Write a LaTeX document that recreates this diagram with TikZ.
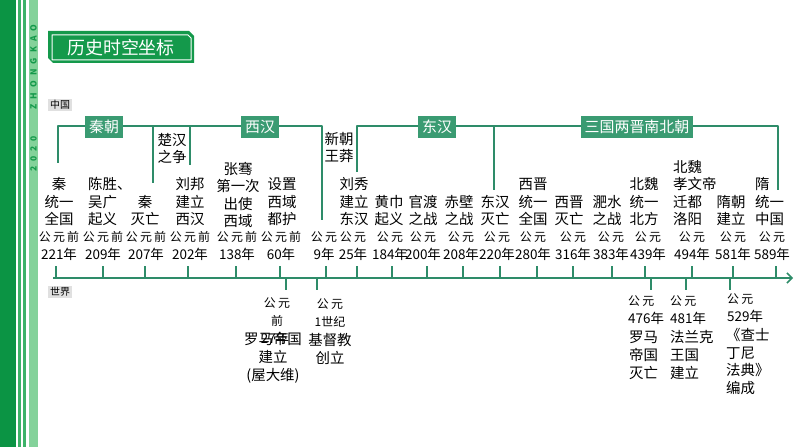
\documentclass[tikz,border=0pt]{standalone}
\usepackage{fontspec}
\setmainfont{Noto Sans CJK SC}
\newfontfamily\gyfont[LetterSpace=18]{Noto Sans CJK SC}
\newfontfamily\stripfont[LetterSpace=60]{Noto Sans CJK SC}
\usepackage[x11names, svgnames, rgb]{xcolor}
\usepackage{tikz}
\usetikzlibrary{arrows,arrows.meta,shapes}
\definecolor{tlgreen}{HTML}{2E8C69}
\definecolor{dynfill}{HTML}{3A9B72}
\definecolor{ttlgreen}{HTML}{14994B}
\definecolor{darkstrip}{HTML}{0B9444}
\definecolor{thinstrip}{HTML}{3DB268}
\definecolor{lightstrip}{HTML}{84D29A}

\begin{document}
\begin{tikzpicture}[line join=bevel,
  ev/.style={align=center,anchor=south,inner sep=0pt,font=\fontsize{14.5}{17.5}\selectfont},
  evl/.style={ev,align=left,anchor=south west},
  yr/.style={align=center,inner sep=0pt,font=\fontsize{13.5}{18}\selectfont},
  wd/.style={align=center,inner sep=0pt,font=\fontsize{14.5}{18}\selectfont},
  wdl/.style={wd,align=left,anchor=west},
  dynbox/.style={fill=dynfill,text=white,minimum height=22bp,inner xsep=4bp,inner ysep=0pt,font=\fontsize{15}{15}\selectfont},
  tag/.style={fill=black!12,inner xsep=2bp,inner ysep=1.5bp,font=\fontsize{10}{10}\selectfont},
  tline/.style={draw=tlgreen,line width=1.5bp},
]
\useasboundingbox (0bp,0bp) rectangle (794bp,447bp);
%% side strips
\fill[darkstrip] (0bp,0bp) rectangle (16bp,447bp);
\fill[thinstrip] (18bp,0bp) rectangle (21bp,447bp);
\fill[thinstrip] (23bp,0bp) rectangle (26bp,447bp);
\fill[lightstrip] (29bp,0bp) rectangle (38bp,447bp);
\node (zk) at (33.5bp,380bp) [rotate=90,text=ttlgreen,inner sep=0pt,font=\stripfont\fontsize{8.5}{8.5}\bfseries] {ZHONGKAO};
\node (zy) at (33.5bp,293bp) [rotate=90,text=ttlgreen,inner sep=0pt,font=\stripfont\fontsize{8.5}{8.5}\bfseries] {2020};
%% title
\fill[ttlgreen] (48bp,416bp) -- (189bp,416bp) -- (194bp,411bp) -- (194bp,384bp) -- (53bp,384bp) -- (48bp,389bp) -- cycle;
\draw[white,line width=1bp] (52bp,412bp) -- (188bp,412bp) -- (191bp,409bp) -- (191bp,387bp) -- (52bp,387bp) -- cycle;
\node (title) at (121bp,399bp) [text=white,inner sep=0pt,font=\fontsize{18}{18}\selectfont] {历史时空坐标};
%% labels
\node (cn) at (60bp,342bp) [tag] {中国};
\node (wd) at (60bp,155bp) [tag] {世界};
%% dynasty brackets
\coordinate (q0) at (58bp,284bp);
\coordinate (q1) at (58bp,321bp);
\coordinate (q2) at (153bp,321bp);
\coordinate (q3) at (153bp,264bp);
\coordinate (h0) at (190bp,321bp);
\coordinate (h1) at (190bp,282bp);
\coordinate (h2) at (322bp,321bp);
\coordinate (h3) at (322bp,227bp);
\coordinate (d0) at (357bp,275bp);
\coordinate (d1) at (357bp,321bp);
\coordinate (d2) at (494bp,321bp);
\coordinate (d3) at (494bp,257bp);
\coordinate (s0) at (778bp,321bp);
\coordinate (s1) at (778bp,257bp);
\draw[tline] (q0) -- (q1) -- (h2) -- (h3);
\draw[tline] (q2) -- (q3);
\draw[tline] (h0) -- (h1);
\draw[tline] (d0) -- (d1) -- (s0) -- (s1);
\draw[tline] (d2) -- (d3);
\node (qin) at (104bp,320bp) [dynbox] {秦朝};
\node (xihan) at (260bp,320bp) [dynbox] {西汉};
\node (donghan) at (437bp,320bp) [dynbox] {东汉};
\node (sanguo) at (637bp,320bp) [dynbox] {三国两晋南北朝};
\node (chuhan) at (172bp,298.5bp) [ev,anchor=center] {楚汉\\之争};
\node (xinchao) at (339bp,299.5bp) [ev,anchor=center] {新朝\\王莽};
%% events in China
\node (e1) at (59bp,221bp) [ev] {秦\\统一\\全国};
\node (e2) at (88bp,221bp) [evl] {陈胜、\\吴广\\起义};
\node (e3) at (145bp,221bp) [ev] {秦\\灭亡};
\node (e4) at (190bp,221bp) [ev] {刘邦\\建立\\西汉};
\node (e5) at (238bp,219bp) [ev] {张骞\\第一次\\出使\\西域};
\node (e6) at (282bp,221bp) [ev] {设置\\西域\\都护};
\node (e7) at (354bp,221bp) [ev] {刘秀\\建立\\东汉};
\node (e8) at (389bp,221bp) [ev] {黄巾\\起义};
\node (e9) at (423bp,221bp) [ev] {官渡\\之战};
\node (e10) at (459bp,221bp) [ev] {赤壁\\之战};
\node (e11) at (495bp,221bp) [ev] {东汉\\灭亡};
\node (e12) at (533bp,221bp) [ev] {西晋\\统一\\全国};
\node (e13) at (569bp,221bp) [ev] {西晋\\灭亡};
\node (e14) at (607bp,221bp) [ev] {淝水\\之战};
\node (e15) at (644bp,221bp) [ev] {北魏\\统一\\北方};
\node (e16) at (673bp,221bp) [evl] {北魏\\孝文帝\\迁都\\洛阳};
\node (e17) at (731bp,221bp) [ev] {隋朝\\建立};
\node (e18) at (755bp,221bp) [evl] {隋\\统一\\中国};
%% years
\node (y1) at (59bp,201bp) [yr] {{\gyfont\fontsize{12}{12}\selectfont 公元前}\\221年};
\node (y2) at (103bp,201bp) [yr] {{\gyfont\fontsize{12}{12}\selectfont 公元前}\\209年};
\node (y3) at (146bp,201bp) [yr] {{\gyfont\fontsize{12}{12}\selectfont 公元前}\\207年};
\node (y4) at (190bp,201bp) [yr] {{\gyfont\fontsize{12}{12}\selectfont 公元前}\\202年};
\node (y5) at (237bp,201bp) [yr] {{\gyfont\fontsize{12}{12}\selectfont 公元前}\\138年};
\node (y6) at (281bp,201bp) [yr] {{\gyfont\fontsize{12}{12}\selectfont 公元前}\\60年};
\node (y7) at (324bp,201bp) [yr] {{\gyfont\fontsize{12}{12}\selectfont 公元}\\9年};
\node (y8) at (353bp,201bp) [yr] {{\gyfont\fontsize{12}{12}\selectfont 公元}\\25年};
\node (y9) at (390bp,201bp) [yr] {{\gyfont\fontsize{12}{12}\selectfont 公元}\\184年};
\node (y10) at (423bp,201bp) [yr] {{\gyfont\fontsize{12}{12}\selectfont 公元}\\200年};
\node (y11) at (461bp,201bp) [yr] {{\gyfont\fontsize{12}{12}\selectfont 公元}\\208年};
\node (y12) at (497bp,201bp) [yr] {{\gyfont\fontsize{12}{12}\selectfont 公元}\\220年};
\node (y13) at (533bp,201bp) [yr] {{\gyfont\fontsize{12}{12}\selectfont 公元}\\280年};
\node (y14) at (573bp,201bp) [yr] {{\gyfont\fontsize{12}{12}\selectfont 公元}\\316年};
\node (y15) at (611bp,201bp) [yr] {{\gyfont\fontsize{12}{12}\selectfont 公元}\\383年};
\node (y16) at (648bp,201bp) [yr] {{\gyfont\fontsize{12}{12}\selectfont 公元}\\439年};
\node (y17) at (692bp,201bp) [yr] {{\gyfont\fontsize{12}{12}\selectfont 公元}\\494年};
\node (y18) at (733bp,201bp) [yr] {{\gyfont\fontsize{12}{12}\selectfont 公元}\\581年};
\node (y19) at (772bp,201bp) [yr] {{\gyfont\fontsize{12}{12}\selectfont 公元}\\589年};
%% axis and ticks
\coordinate (ax0) at (53bp,169bp);
\coordinate (ax1) at (793bp,169bp);
\draw[tline,-{Straight Barb[length=5bp,width=10bp]}] (ax0) -- (ax1);
\coordinate (u1) at (56bp,169bp);  \coordinate (u2) at (103bp,169bp);
\coordinate (u3) at (145bp,169bp); \coordinate (u4) at (188bp,169bp);
\coordinate (u5) at (236bp,169bp); \coordinate (u6) at (280bp,169bp);
\coordinate (u7) at (326bp,169bp); \coordinate (u8) at (357bp,169bp);
\coordinate (u9) at (392bp,169bp); \coordinate (u10) at (427bp,169bp);
\coordinate (u11) at (463bp,169bp); \coordinate (u12) at (500bp,169bp);
\coordinate (u13) at (537bp,169bp); \coordinate (u14) at (573bp,169bp);
\coordinate (u15) at (612bp,169bp); \coordinate (u16) at (645bp,169bp);
\coordinate (u17) at (692bp,169bp); \coordinate (u18) at (733bp,169bp);
\coordinate (u19) at (776bp,169bp);
\draw[tline] (u1) -- ++(0,12bp) (u2) -- ++(0,12bp) (u3) -- ++(0,12bp) (u4) -- ++(0,12bp)
  (u5) -- ++(0,12bp) (u6) -- ++(0,12bp) (u7) -- ++(0,12bp) (u8) -- ++(0,12bp)
  (u9) -- ++(0,12bp) (u10) -- ++(0,12bp) (u11) -- ++(0,12bp) (u12) -- ++(0,12bp)
  (u13) -- ++(0,12bp) (u14) -- ++(0,12bp) (u15) -- ++(0,12bp) (u16) -- ++(0,12bp)
  (u17) -- ++(0,12bp) (u18) -- ++(0,12bp) (u19) -- ++(0,12bp);
\coordinate (l1) at (286bp,169bp); \coordinate (l2) at (317bp,169bp);
\coordinate (l3) at (651bp,169bp); \coordinate (l4) at (686bp,169bp);
\coordinate (l5) at (730bp,169bp);
\draw[tline] (l1) -- ++(0,-12bp) (l2) -- ++(0,-12bp) (l3) -- ++(0,-12bp)
  (l4) -- ++(0,-12bp) (l5) -- ++(0,-12bp);
%% events in the world
\node (wy1) at (277bp,134.5bp) [yr] {{\gyfont\fontsize{12}{12}\selectfont 公元}\\{\gyfont\fontsize{12}{12}\selectfont 前}};
\node (w1) at (273bp,89bp) [wd] {罗马帝国\\建立\\(屋大维)};
\node (w1b) at (275bp,109bp) [yr] {27年};
\node (wy2) at (330bp,134.5bp) [yr] {{\gyfont\fontsize{12}{12}\selectfont 公元}\\{\fontsize{12}{12}\selectfont 1世纪}};
\node (w2) at (330bp,98bp) [wd] {基督教\\创立};
\node (wy3) at (628bp,136.5bp) [yr,align=left,anchor=west] {{\gyfont\fontsize{12}{12}\selectfont 公元}\\476年};
\node (w3) at (629bp,92bp) [wdl] {罗马\\帝国\\灭亡};
\node (wy4) at (670bp,136.5bp) [yr,align=left,anchor=west] {{\gyfont\fontsize{12}{12}\selectfont 公元}\\481年};
\node (w4) at (670bp,92bp) [wdl] {法兰克\\王国\\建立};
\node (wy5) at (727bp,139bp) [yr,align=left,anchor=west] {{\gyfont\fontsize{12}{12}\selectfont 公元}\\529年};
\node (w5) at (726bp,85.5bp) [wdl] {《查士\\丁尼\\法典》\\编成};
%
\end{tikzpicture}
\end{document}
